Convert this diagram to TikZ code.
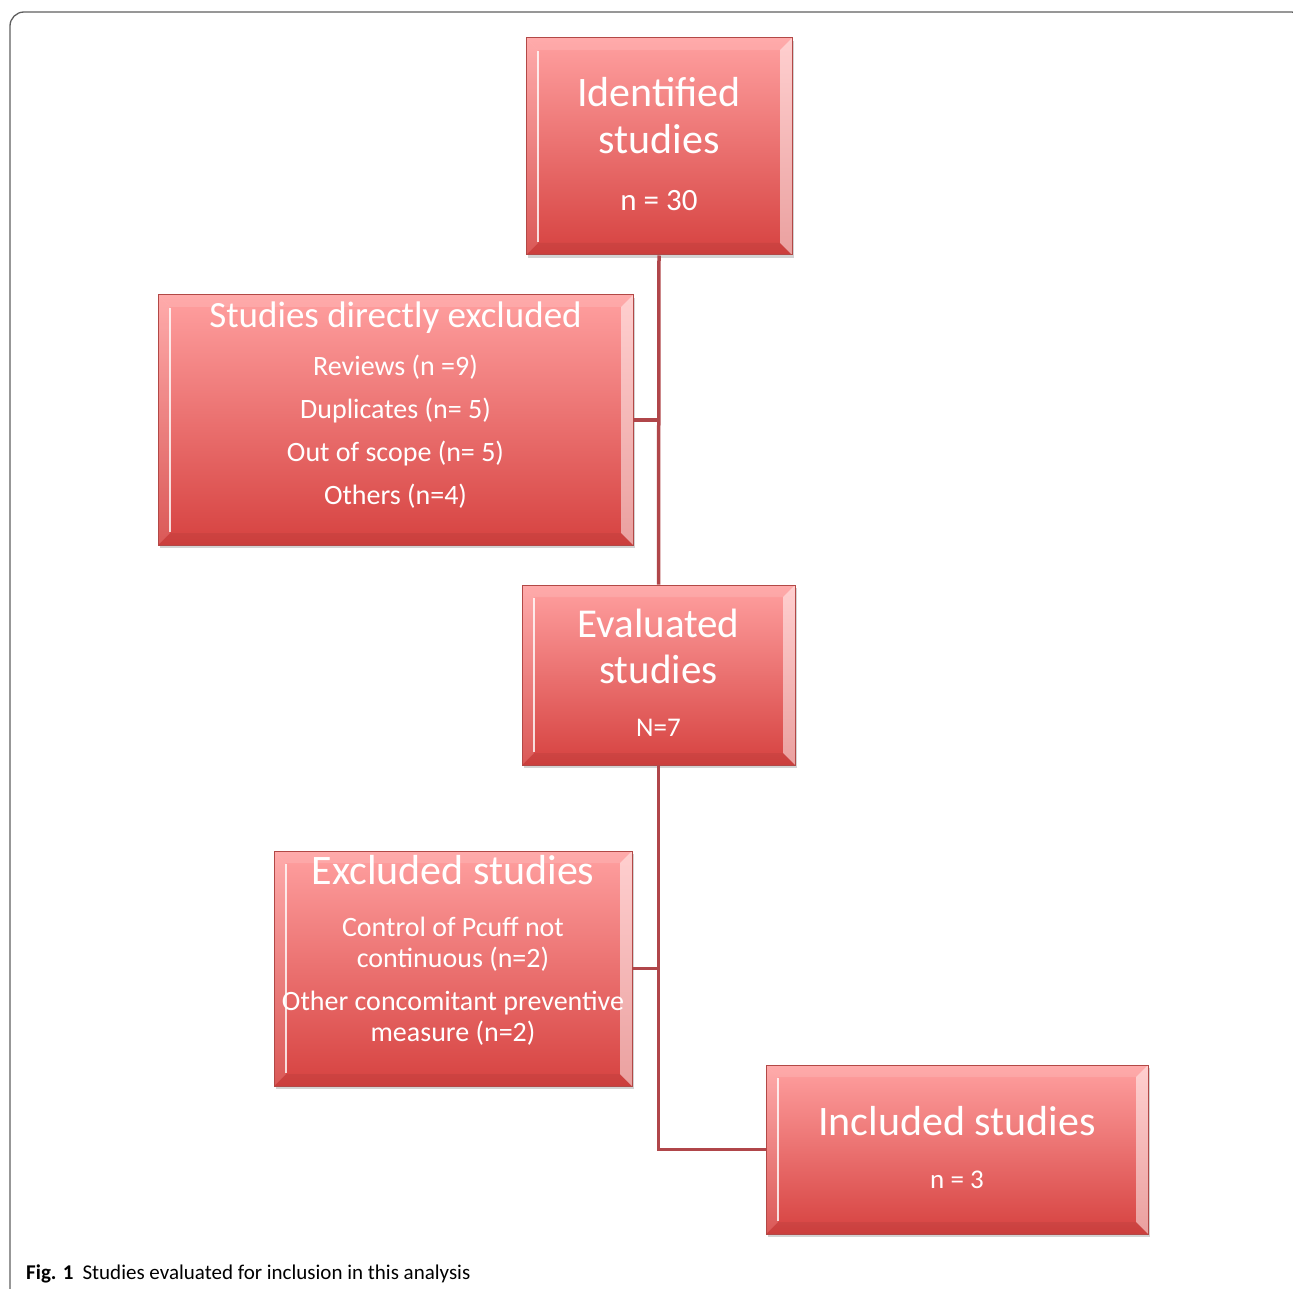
\documentclass[tikz,border=0pt]{standalone}
\usepackage{fontspec}
\setmainfont{Carlito}
\usetikzlibrary{shadows}
\definecolor{boxtop}{RGB}{255,160,160}
\definecolor{boxbot}{RGB}{214,66,64}
\definecolor{boxline}{RGB}{178,72,70}
\definecolor{linkred}{RGB}{176,70,74}
\definecolor{framegray}{RGB}{95,95,95}
\newcommand\itemsz{\fontsize{28}{31}\selectfont}

\tikzset{
  stage/.style={rectangle, draw=boxline, line width=1pt, top color=boxtop, bottom color=boxbot,
    text=white, align=center, inner sep=2pt,
    drop shadow={opacity=0.35, shadow xshift=1.5pt, shadow yshift=-3pt},
    path picture={
      \coordinate (bnw) at (path picture bounding box.north west);
      \coordinate (bne) at (path picture bounding box.north east);
      \coordinate (bsw) at (path picture bounding box.south west);
      \coordinate (bse) at (path picture bounding box.south east);
      \fill[white, opacity=.12] (bnw) -- (bne) -- ([shift={(-12,12)}]bne) -- ([shift={(12,12)}]bnw) -- cycle;
      \fill[white, opacity=.5] (bne) -- (bse) -- ([shift={(-12,-12)}]bse) -- ([shift={(-12,12)}]bne) -- cycle;
      \fill[black, opacity=.05] (bsw) -- (bse) -- ([shift={(-12,-12)}]bse) -- ([shift={(12,-12)}]bsw) -- cycle;
      \fill[white, opacity=.12] (bnw) -- (bsw) -- ([shift={(12,-12)}]bsw) -- ([shift={(12,12)}]bnw) -- cycle;
      \draw[white, opacity=.8, line width=2pt] ([shift={(12,13)}]bnw) -- ([shift={(12,-13)}]bsw);
    }},
  link/.style={draw=linkred, line width=3.5pt}
}

\begin{document}
\begin{tikzpicture}[x=1pt, y=-1pt]
  \useasboundingbox (0,0) rectangle (1293,1289);
  \draw[framegray, line width=1.3pt, rounded corners=14pt] (10,1300) -- (10,12) -- (1305,12) -- (1305,200);

  \node[stage, minimum width=266pt, minimum height=217pt, font=\fontsize{42}{47}\selectfont] (ident) at (659,146.5)
    {Identified\\studies\\[10pt]\fontsize{31}{36}\selectfont n = 30\rule[-6pt]{0pt}{0pt}};
  \node[stage, minimum width=475pt, minimum height=250pt, font=\fontsize{37}{43}\selectfont] (direx) at (395.5,420)
    {Studies directly excluded\\[5pt]\itemsz Reviews (n =9)\\\itemsz Duplicates (n= 5)\\\itemsz Out of scope (n= 5)\\\itemsz Others (n=4)\rule[-34pt]{0pt}{0pt}};
  \node[stage, minimum width=273pt, minimum height=180pt, font=\fontsize{41}{46}\selectfont] (eval) at (658.5,675)
    {Evaluated\\studies\\[7pt]\fontsize{27}{32}\selectfont N=7\rule[-4pt]{0pt}{0pt}};
  \node[stage, minimum width=358pt, minimum height=235pt, font=\fontsize{42}{31}\selectfont] (exclu) at (453,968.5)
    {Excluded studies\\[21pt]\itemsz Control of Pcuff not\\\itemsz continuous (n=2)\\[12pt]\itemsz Other concomitant preventive\\\itemsz measure (n=2)\rule[-40pt]{0pt}{0pt}};
  \node[stage, minimum width=382pt, minimum height=169pt, font=\fontsize{42}{47}\selectfont] (incl) at (957,1149.5)
    {Included studies\\[6pt]\fontsize{27}{32}\selectfont n = 3\rule[-4pt]{0pt}{0pt}};

  \draw[link] (ident.south) -- (eval.north);
  \draw[link] (direx.east) -- (direx.east -| ident.south);
  \draw[link] (eval.south) -- (eval.south |- incl.west) -- (incl.west);
  \draw[link] (exclu.east) -- (exclu.east -| eval.south);

  \node[anchor=base west, inner sep=0pt, font=\fontsize{21}{25}\selectfont] (cap) at (26,1279)
    {\textbf{Fig. 1}\hspace{9pt}Studies evaluated for inclusion in this analysis};
\end{tikzpicture}
\end{document}
